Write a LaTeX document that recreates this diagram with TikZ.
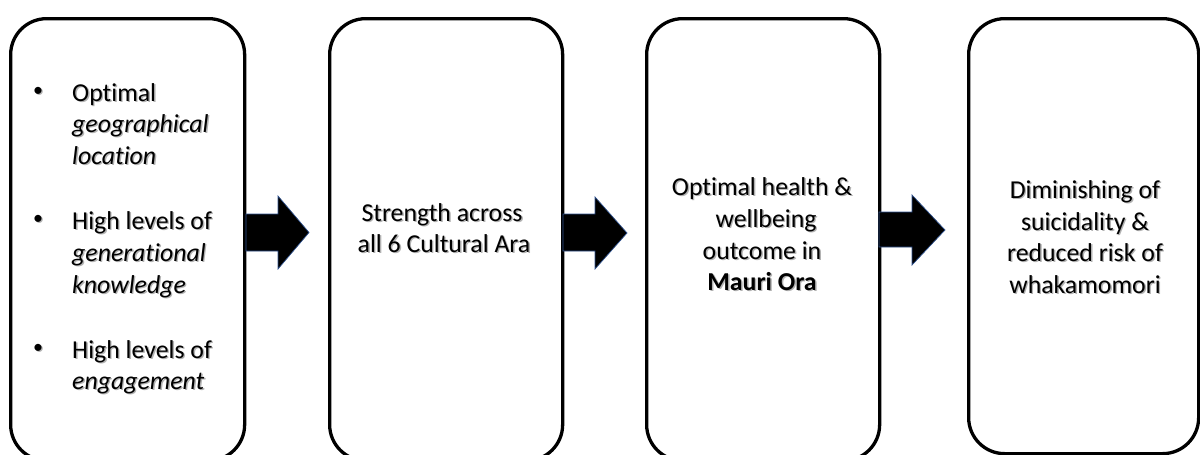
\documentclass[tikz,border=0pt]{standalone}
\usepackage{fontspec}
\setmainfont{Carlito}[Ligatures={NoCommon}]
\definecolor{arrowedge}{HTML}{2F528F}
% text with a soft grey drop shadow
\newcommand\shd[1]{\makebox[0pt][l]{\hspace{1.4pt}\raisebox{-1.4pt}{\textcolor{black!30}{#1}}}{#1}}
\tikzset{
  box/.style={draw=black, line width=3.3pt, rounded corners=36pt, fill=white,
              anchor=north west, inner sep=0pt},
  blockarrow/.style={fill=black, draw=arrowedge, line width=0.7pt, line join=miter},
  txt/.style={inner sep=0pt, font=\fontsize{25.8}{31}\selectfont},
  ltxt/.style={txt, anchor=base west},
  ctxt/.style={txt, anchor=base},
  bullet/.style={inner sep=0pt, anchor=base, font=\fontsize{20}{24}\selectfont},
}
\begin{document}
\begin{tikzpicture}[x=1pt, y=-1pt]
\useasboundingbox (0,0) rectangle (1200,455);

% the four stages
\node (b1) [box, minimum width=234pt, minimum height=442pt] at (9,17) {};
\node (b2) [box, minimum width=233pt, minimum height=442pt] at (328,17) {};
\node (b3) [box, minimum width=233pt, minimum height=442pt] at (645,17) {};
\node (b4) [box, minimum width=230pt, minimum height=435pt] at (967,17) {};

% block arrows between the stages
\draw[blockarrow] (246,214) -- (278,214) -- (278,196) -- (309,232.5)
  -- (278,269) -- (278,251) -- (246,251) -- cycle;
\draw[blockarrow] (563,214) -- (595,214) -- (595,197) -- (627,233)
  -- (595,269) -- (595,251) -- (563,251) -- cycle;
\draw[blockarrow] (879,212) -- (912,212) -- (912,195) -- (945,230)
  -- (912,265) -- (912,247) -- (879,247) -- cycle;

% stage 1: bullet list
\node (u1) [bullet] at (38,96) {\shd{•}};
\node (t1a) [ltxt] at (72,101) {\shd{Optimal}};
\node (t1b) [ltxt] at (72,132.5) {\shd{\itshape geographical}};
\node (t1c) [ltxt] at (72,164) {\shd{\itshape location}};
\node (u2) [bullet] at (38,224) {\shd{•}};
\node (t2a) [ltxt] at (72,229) {\shd{High levels of}};
\node (t2b) [ltxt] at (72,261) {\shd{\itshape generational}};
\node (t2c) [ltxt] at (72,293) {\shd{\itshape knowledge}};
\node (u3) [bullet] at (38,353) {\shd{•}};
\node (t3a) [ltxt] at (72,358) {\shd{High levels of}};
\node (t3b) [ltxt] at (72,389) {\shd{\itshape engagement}};

% stage 2
\node (s2a) [ctxt] at (442,221) {\shd{Strength across}};
\node (s2b) [ctxt] at (444,252) {\shd{all 6 Cultural Ara}};

% stage 3
\node (s3a) [ctxt] at (762,195) {\shd{Optimal health \&}};
\node (s3b) [ctxt] at (766,227) {\shd{wellbeing}};
\node (s3c) [ctxt] at (762,259) {\shd{outcome in}};
\node (s3d) [ctxt] at (762,290) {\shd{\bfseries Mauri Ora}};

% stage 4
\node (s4a) [ctxt] at (1085,198) {\shd{Diminishing of}};
\node (s4b) [ctxt] at (1085,230) {\shd{suicidality \&}};
\node (s4c) [ctxt] at (1085,261.5) {\shd{reduced risk of}};
\node (s4d) [ctxt] at (1085,293) {\shd{whakamomori}};
\end{tikzpicture}
\end{document}
